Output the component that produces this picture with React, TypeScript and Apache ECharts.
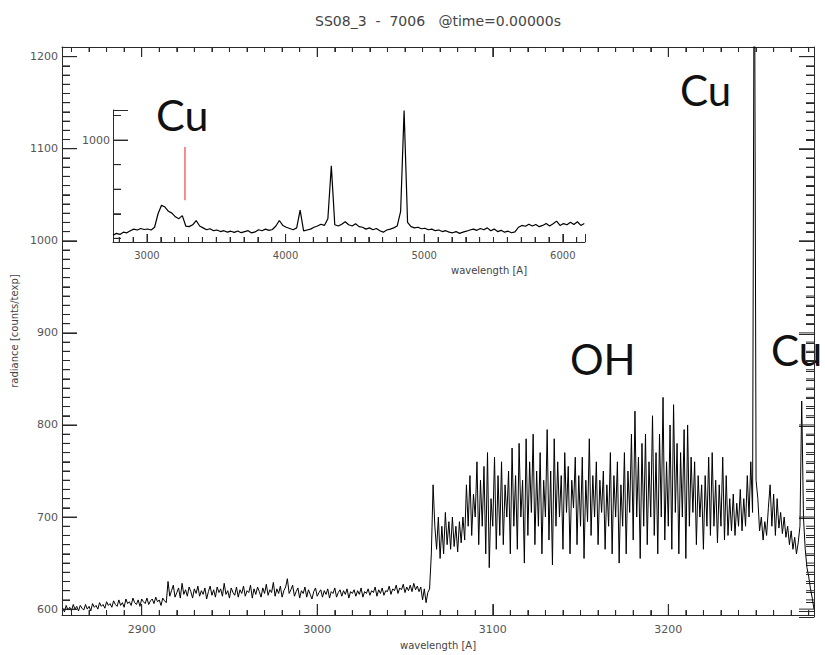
import React, { useEffect, useRef } from "react";
import * as echarts from "echarts";

// ---------- texts ----------
const TITLE = "SS08_3  -  7006   @time=0.00000s";
const X_NAME = "wavelength [A]";
const Y_NAME = "radiance [counts/texp]";

// ---------- main spectrum ----------
const MAIN_X_MIN = 2854.6;
const MAIN_X_MAX = 3283;
const MAIN_Y_MIN = 593.5;
const MAIN_Y_MAX = 1210.5;

// continuum part (1 Å sampling, 2855–3064)
const CONT_START = 2855;
const CONT_STEP = 1;
const continuum = [
  601, 597, 604, 599, 602, 598, 605, 600, 603, 598,
  604, 601, 599, 605, 600, 603, 598, 606, 602, 604,
  600, 607, 603, 605, 601, 608, 604, 606, 602, 609,
  605, 603, 610, 604, 607, 602, 611, 606, 608, 604,
  612, 607, 605, 610, 603, 611, 608, 606, 612, 605,
  609, 611, 606, 613, 608, 610, 604, 612, 609, 607,
  630, 614, 620, 626, 613, 618, 623, 612, 628, 616,
  621, 614, 624, 619, 612, 622, 617, 625, 614, 620,
  616, 623, 611, 619, 625, 615, 621, 613, 624, 618,
  622, 614, 628, 616, 620, 612, 623, 618, 615, 624,
  613, 621, 617, 625, 614, 620, 618, 626, 612, 622,
  616, 624, 619, 613, 623, 617, 627, 615, 621, 618,
  629, 614, 622, 617, 625, 613, 620, 624, 633, 617,
  621, 626, 614, 619, 623, 612, 620, 617, 624, 613,
  621, 616, 611, 619, 623, 614, 618, 621, 613, 620,
  616, 622, 612, 619, 617, 623, 613, 618, 621, 614,
  620, 616, 622, 612, 619, 617, 621, 614, 620, 616,
  623, 613, 619, 617, 622, 615, 620, 618, 624, 614,
  621, 617, 623, 615, 620, 619, 625, 616, 622, 620,
  626, 617, 623, 621, 627, 618, 624, 620, 626, 619,
  628, 621, 625, 619, 624, 610, 622, 607, 618, 622,
];

// OH band part (1 Å sampling, 3065–3283)
const BAND_START = 3065;
const BAND_STEP = 1;
const ohBand = [
  660, 735, 690, 665, 700, 655, 690, 660, 705,
  670, 695, 665, 700, 668, 690, 662, 695, 672, 700,
  675, 735, 690, 745, 680, 725, 700, 760, 670, 740,
  690, 755, 660, 770, 645, 720, 690, 765, 665, 745,
  680, 760, 670, 735, 700, 750, 660, 775, 690, 745,
  665, 780, 700, 740, 650, 785, 680, 760, 705, 790,
  670, 750, 690, 770, 660, 740, 700, 795, 675, 750,
  648, 785, 690, 760, 700, 745, 665, 770, 705, 755,
  660, 740, 710, 765, 670, 745, 690, 765, 655, 740,
  695, 785, 680, 745, 700, 760, 670, 740, 705, 750,
  665, 735, 690, 770, 660, 745, 700, 760, 650, 735,
  690, 770, 660, 750, 705, 790, 675, 815, 700, 765,
  655, 780, 690, 790, 670, 760, 700, 810, 680, 770,
  660, 790, 700, 830, 675, 760, 690, 800, 665, 822,
  705, 780, 660, 770, 700, 795, 655, 800, 690, 765,
  705, 760, 670, 745, 700, 735, 665, 745, 690, 765,
  680, 770, 690, 740, 672, 735, 690, 765, 675, 745,
  680, 720, 685, 725, 680, 715, 690, 730, 685, 720,
  690, 745, 700, 760, 705, 1400, 740, 720, 685, 700,
  675, 695, 680, 710, 735, 690, 725, 680, 720, 688,
  705, 682, 700, 678, 690, 670, 685, 665, 678, 660,
  672, 690, 826, 700, 665, 645, 635, 622, 612, 600,
];

// ---------- inset spectrum ----------
const INSET_X_MIN = 2755;
const INSET_X_MAX = 6160;
const INSET_Y_MIN = 170;
const INSET_Y_MAX = 1245;
const INSET_START = 2755;
const INSET_STEP = 25;
const insetSpectrum = [
  225, 240, 232, 250, 245, 262, 275, 268, 280, 272,
  276, 268, 290, 400, 470, 455, 420, 405, 375, 360,
  385, 300, 295, 310, 345, 300, 285, 270, 278, 262,
  268, 255, 262, 250, 258, 248, 260, 246, 255, 262,
  244, 252, 270, 262, 275, 265, 272, 300, 345, 305,
  290, 280, 270, 285, 430, 260, 268, 275, 290, 300,
  315, 305, 360, 790, 310, 300, 315, 335, 310, 300,
  318, 295, 290, 275, 285, 270, 280, 262, 250, 268,
  275, 285, 300, 420, 1240, 330, 295, 285, 290, 278,
  282, 270, 275, 262, 268, 255, 262, 250, 245, 255,
  240, 250, 258, 268, 275, 265, 280, 270, 285, 262,
  275, 255, 265, 250, 258, 245, 252, 290, 305, 298,
  315, 300, 312, 295, 305, 320, 300, 318, 340, 305,
  320, 310, 330, 312, 335, 305, 320,
];
const cuMarkerWavelength = [3274, 3274];
const cuMarkerValue = [510, 943];

// ---------- tick values ----------
function tickList(from: number, to: number, step: number, majorStep: number) {
  const out: number[][] = [];
  for (let t = from; t <= to + 1e-9; t += step) out.push([t, Math.abs(t % majorStep) < 1e-6 ? 1 : 0]);
  return out;
}
const mainXTicks = tickList(2860, 3280, 10, 100);
const mainYTicks = tickList(600, 1210, 10, 100);
const insetXTicks = tickList(2800, 6100, 100, 1000);
const insetYTicks = tickList(200, 1200, 200, 1000);

// ---------- layout ----------
const W = 825;
const H = 655;
const MAIN_GRID = { left: 62, top: 47, right: 11, bottom: 38 };
const INSET_GRID = { left: 113, top: 110, width: 472, height: 132 };

const AXIS_COLOR = "#2a2a2a";
const LABEL_COLOR = "#555";
const TICK_FONT = "DejaVu Sans";
const NOTE_FONT = "Lato";

// tick segments as a broken line series (value units per pixel from the grid size)
function tickSegments(
  ticks: number[][], vertical: boolean, lo: number, hi: number,
  unitsPerPx: number, lenLo: number[], lenHi: number[] | null
) {
  const d: any[] = [];
  ticks.forEach(([v, m]) => {
    const l1 = (m ? lenLo[0] : lenLo[1]) * unitsPerPx;
    if (vertical) {
      d.push([v, lo], [v, lo + l1], [v, "-"]);
      if (lenHi) {
        const l2 = (m ? lenHi[0] : lenHi[1]) * unitsPerPx;
        d.push([v, hi], [v, hi - l2], [v, "-"]);
      }
    } else {
      d.push([lo, v], [lo + l1, v], ["-", v]);
      if (lenHi) {
        const l2 = (m ? lenHi[0] : lenHi[1]) * unitsPerPx;
        d.push([hi, v], [hi - l2, v], ["-", v]);
      }
    }
  });
  return d;
}

function buildOption() {
  const mainData: number[][] = [];
  continuum.forEach((v, i) => mainData.push([CONT_START + i * CONT_STEP, v]));
  ohBand.forEach((v, i) => mainData.push([BAND_START + i * BAND_STEP, v]));
  const insetData = insetSpectrum.map((v, i) => [INSET_START + i * INSET_STEP, v]);
  const markerData = cuMarkerWavelength.map((w, i) => [w, cuMarkerValue[i]]);

  const mainW = W - MAIN_GRID.left - MAIN_GRID.right;
  const mainH = H - MAIN_GRID.top - MAIN_GRID.bottom;
  const mainXu = (MAIN_X_MAX - MAIN_X_MIN) / mainW;
  const mainYu = (MAIN_Y_MAX - MAIN_Y_MIN) / mainH;
  const insXu = (INSET_X_MAX - INSET_X_MIN) / INSET_GRID.width;
  const insYu = (INSET_Y_MAX - INSET_Y_MIN) / INSET_GRID.height;

  const mainTickData = [
    ...tickSegments(mainXTicks, true, MAIN_Y_MIN, MAIN_Y_MAX, mainYu, [11, 5], [10, 5]),
    ...tickSegments(mainYTicks, false, MAIN_X_MIN, MAIN_X_MAX, mainXu, [15, 8], [15, 8]),
  ];
  const insetTickData = [
    ...tickSegments(insetXTicks, true, INSET_Y_MIN, INSET_Y_MAX, insYu, [8, 5], null),
    ...tickSegments(insetYTicks, false, INSET_X_MIN, INSET_X_MAX, insXu, [15, 8], null),
  ];

  const mkAxis = (o: any) => ({
    type: "value",
    splitLine: { show: false },
    axisLine: { show: true, lineStyle: { color: AXIS_COLOR, width: 1 } },
    axisTick: { show: true, inside: true, length: o.major, lineStyle: { color: AXIS_COLOR, width: 1 } },
    minorTick: { show: true, splitNumber: o.minorSplit, length: o.minor, lineStyle: { color: AXIS_COLOR, width: 1 } },
    axisLabel: {
      show: o.labels,
      color: LABEL_COLOR,
      fontSize: o.fontSize || 11,
      fontFamily: TICK_FONT,
      margin: o.margin,
      formatter: (v: number) => (Math.abs(v % o.labelStep) < 1e-6 ? String(v) : ""),
    },
    ...o.extra,
  });

  const tickLine = (xIdx: number, yIdx: number, data: any[]) => ({
    type: "line", xAxisIndex: xIdx, yAxisIndex: yIdx, data,
    symbol: "none", showSymbol: false, clip: false, connectNulls: false,
    lineStyle: { color: AXIS_COLOR, width: 1 }, silent: true, z: 3,
  });

  return {
    animation: false,
    grid: [
      { ...MAIN_GRID },
      { ...MAIN_GRID },
      { ...INSET_GRID },
    ],
    xAxis: [
      mkAxis({
        major: 11, minor: 5, minorSplit: 10, labels: true, margin: 9, labelStep: 100,
        extra: {
          gridIndex: 0, position: "bottom", min: MAIN_X_MIN, max: MAIN_X_MAX, splitNumber: 4,
          name: X_NAME, nameLocation: "middle", nameGap: 24,
          nameTextStyle: { color: "#444", fontSize: 10, fontFamily: TICK_FONT },
        },
      }),
      mkAxis({
        major: 10, minor: 5, minorSplit: 10, labels: false, margin: 8, labelStep: 100,
        extra: { gridIndex: 1, position: "top", min: MAIN_X_MIN, max: MAIN_X_MAX, splitNumber: 4 },
      }),
      mkAxis({
        major: 8, minor: 5, minorSplit: 10, labels: true, margin: 8, fontSize: 10, labelStep: 1000,
        extra: { gridIndex: 2, position: "bottom", min: INSET_X_MIN, max: INSET_X_MAX, splitNumber: 3 },
      }),
    ],
    yAxis: [
      mkAxis({
        major: 15, minor: 8, minorSplit: 10, labels: true, margin: 4, labelStep: 100,
        extra: {
          gridIndex: 0, position: "left", min: MAIN_Y_MIN, max: MAIN_Y_MAX, splitNumber: 6,
          name: Y_NAME, nameLocation: "middle", nameGap: 39, nameRotate: 90,
          nameTextStyle: { color: "#444", fontSize: 10, fontFamily: TICK_FONT },
        },
      }),
      mkAxis({
        major: 15, minor: 8, minorSplit: 10, labels: false, margin: 4, labelStep: 100,
        extra: { gridIndex: 1, position: "right", min: MAIN_Y_MIN, max: MAIN_Y_MAX, splitNumber: 6 },
      }),
      mkAxis({
        major: 15, minor: 8, minorSplit: 5, labels: true, margin: 3, labelStep: 1000,
        extra: { gridIndex: 2, position: "left", min: INSET_Y_MIN, max: INSET_Y_MAX, splitNumber: 1 },
      }),
    ],
    series: [
      {
        type: "line", xAxisIndex: 0, yAxisIndex: 0, data: mainData,
        symbol: "none", showSymbol: false, clip: true,
        lineStyle: { color: "#000", width: 1 }, silent: true,
      },
      {
        type: "line", xAxisIndex: 2, yAxisIndex: 2, data: insetData,
        symbol: "none", showSymbol: false, clip: true,
        lineStyle: { color: "#000", width: 1.2 }, silent: true,
      },
      {
        type: "line", xAxisIndex: 2, yAxisIndex: 2, data: markerData,
        symbol: "none", showSymbol: false,
        lineStyle: { color: "#f06a6a", width: 1.5 }, silent: true,
      },
      tickLine(0, 0, mainTickData),
      tickLine(2, 2, insetTickData),
    ],
    graphic: [
      {
        type: "text", x: 438, y: 21,
        style: { text: TITLE, fontSize: 14, fontFamily: TICK_FONT, fill: "#444", textAlign: "center", textVerticalAlign: "middle" },
      },
      {
        type: "text", x: 489, y: 270,
        style: { text: X_NAME, fontSize: 10, fontFamily: TICK_FONT, fill: "#444", textAlign: "center", textVerticalAlign: "middle" },
      },
      {
        type: "text", x: 680, y: 90,
        style: { text: "Cu", fontSize: 42, fontFamily: NOTE_FONT, fill: "#111", textAlign: "left", textVerticalAlign: "middle" },
      },
      {
        type: "text", x: 156, y: 114,
        style: { text: "Cu", fontSize: 43, fontFamily: NOTE_FONT, fill: "#111", textAlign: "left", textVerticalAlign: "middle" },
      },
      {
        type: "text", x: 570, y: 359,
        style: { text: "OH", fontSize: 42, fontFamily: NOTE_FONT, fill: "#111", textAlign: "left", textVerticalAlign: "middle" },
      },
      {
        type: "text", x: 771, y: 350,
        style: { text: "Cu", fontSize: 42, fontFamily: NOTE_FONT, fill: "#111", textAlign: "left", textVerticalAlign: "middle" },
      },
    ],
  };
}

export default function App() {
  const ref = useRef<HTMLDivElement>(null);
  useEffect(() => {
    document.body.style.margin = "0";
    document.body.style.background = "#fff";
    if (!ref.current) return;
    const chart = echarts.init(ref.current, null, { renderer: "svg" });
    chart.setOption(buildOption() as any);
    return () => chart.dispose();
  }, []);
  return <div ref={ref} style={{ width: W, height: H, overflow: "hidden", background: "#fff" }} />;
}
